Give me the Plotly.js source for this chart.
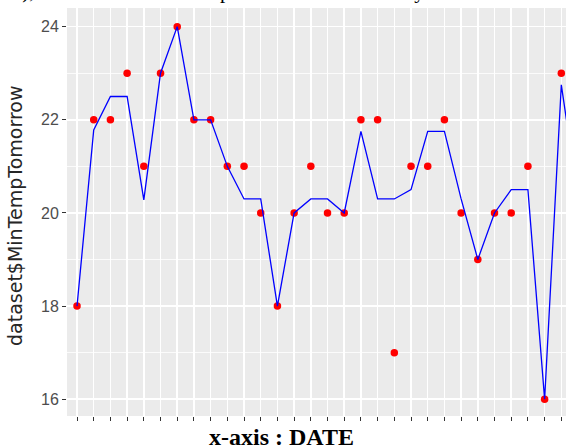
<!DOCTYPE html>
<html><head><meta charset="utf-8">
<script src="https://cdn.plot.ly/plotly-3.0.1.min.js"></script>
<style>html,body{margin:0;padding:0;overflow:hidden;background:#fff}</style>
</head><body><div id="chart" style="width:566px;height:448px"></div>
<script>
const dates = ["2017-05-25","2017-05-26","2017-05-27","2017-05-28","2017-05-29","2017-05-30","2017-05-31",
  "2017-06-01","2017-06-02","2017-06-03","2017-06-04","2017-06-05","2017-06-06","2017-06-07","2017-06-08",
  "2017-06-09","2017-06-10","2017-06-11","2017-06-12","2017-06-13","2017-06-14","2017-06-15","2017-06-16",
  "2017-06-17","2017-06-18","2017-06-19","2017-06-20","2017-06-21","2017-06-22","2017-06-23","2017-06-24"];
const actual = [18,22,22,23,21,23,24,22,22,21,21,20,18,20,21,20,20,22,22,17,21,21,22,20,19,20,20,21,16,23,null];
const predicted = [18,21.78,22.5,22.5,20.28,23,24,22,22,21,20.3,20.3,18,20,20.3,20.3,20,21.75,20.3,20.3,20.5,21.75,21.75,20.3,19,20,20.5,20.5,16,22.75,20.3];
const yTicks = [16,18,20,22,24];
const yMinor = [17,19,21,23];
const xTitle = "x-axis : DATE";
const yTitle = "dataset$MinTempTomorrow";
const topTitle = "a), a decision tree of the prediction value base by decision tree model";

const W = 566, H = 448, L = 67, R = 0, T = 8, B = 32;
const pw = W - L - R, ph = H - T - B;
const px2x = p => (p - L) / pw;
const py2y = p => (H - B - p) / ph;

const traces = [
  {x: dates, y: actual, type: 'scatter', mode: 'markers',
   marker: {color: '#FF0000', size: 7.5}, hoverinfo: 'skip'},
  {x: dates, y: predicted, type: 'scatter', mode: 'lines',
   line: {color: '#0000FF', width: 1.3}, hoverinfo: 'skip'}
];

const layout = {
  width: W, height: H,
  margin: {l: L, r: R, t: T, b: B, pad: 0},
  paper_bgcolor: '#FFFFFF', plot_bgcolor: '#EBEBEB',
  showlegend: false,
  xaxis: {type: 'category', range: [-0.6, 29.28], showticklabels: false,
    ticks: 'outside', ticklen: 4, tickwidth: 1, tickcolor: '#333333',
    showgrid: true, gridcolor: '#FFFFFF', gridwidth: 1.5, zeroline: false, showline: false},
  yaxis: {range: [15.64, 24.40], tickmode: 'array', tickvals: yTicks, ticktext: yTicks.map(String),
    ticks: 'outside', ticklen: 4, tickwidth: 1, tickcolor: '#333333',
    tickfont: {family: 'Liberation Sans, Arial, sans-serif', size: 16, color: '#4D4D4D'},
    showgrid: true, gridcolor: '#FFFFFF', gridwidth: 1.5, zeroline: false, showline: false,
    minor: {tickmode: 'array', tickvals: yMinor, showgrid: true, gridcolor: '#FFFFFF', gridwidth: 0.8, ticks: ''}},
  annotations: [
    {text: xTitle, xref: 'paper', yref: 'paper', x: px2x(281), y: py2y(437), xanchor: 'center', yanchor: 'middle',
     showarrow: false, font: {family: 'Liberation Serif, Times New Roman, serif', size: 24, color: '#000000', weight: 'bold'}},
    {text: yTitle, xref: 'paper', yref: 'paper', x: px2x(15), y: py2y(216), xanchor: 'center', yanchor: 'middle',
     textangle: -90, showarrow: false, font: {family: 'DejaVu Sans, sans-serif', size: 19, color: '#262626'}},
    {text: topTitle, xref: 'paper', yref: 'paper', x: px2x(10.7), y: py2y(5), xanchor: 'left', yanchor: 'bottom',
     showarrow: false, font: {family: 'Liberation Serif, Times New Roman, serif', size: 21, color: '#000000'}}
  ]
};
Plotly.newPlot('chart', traces, layout, {displayModeBar: false, staticPlot: true});
</script></body></html>
